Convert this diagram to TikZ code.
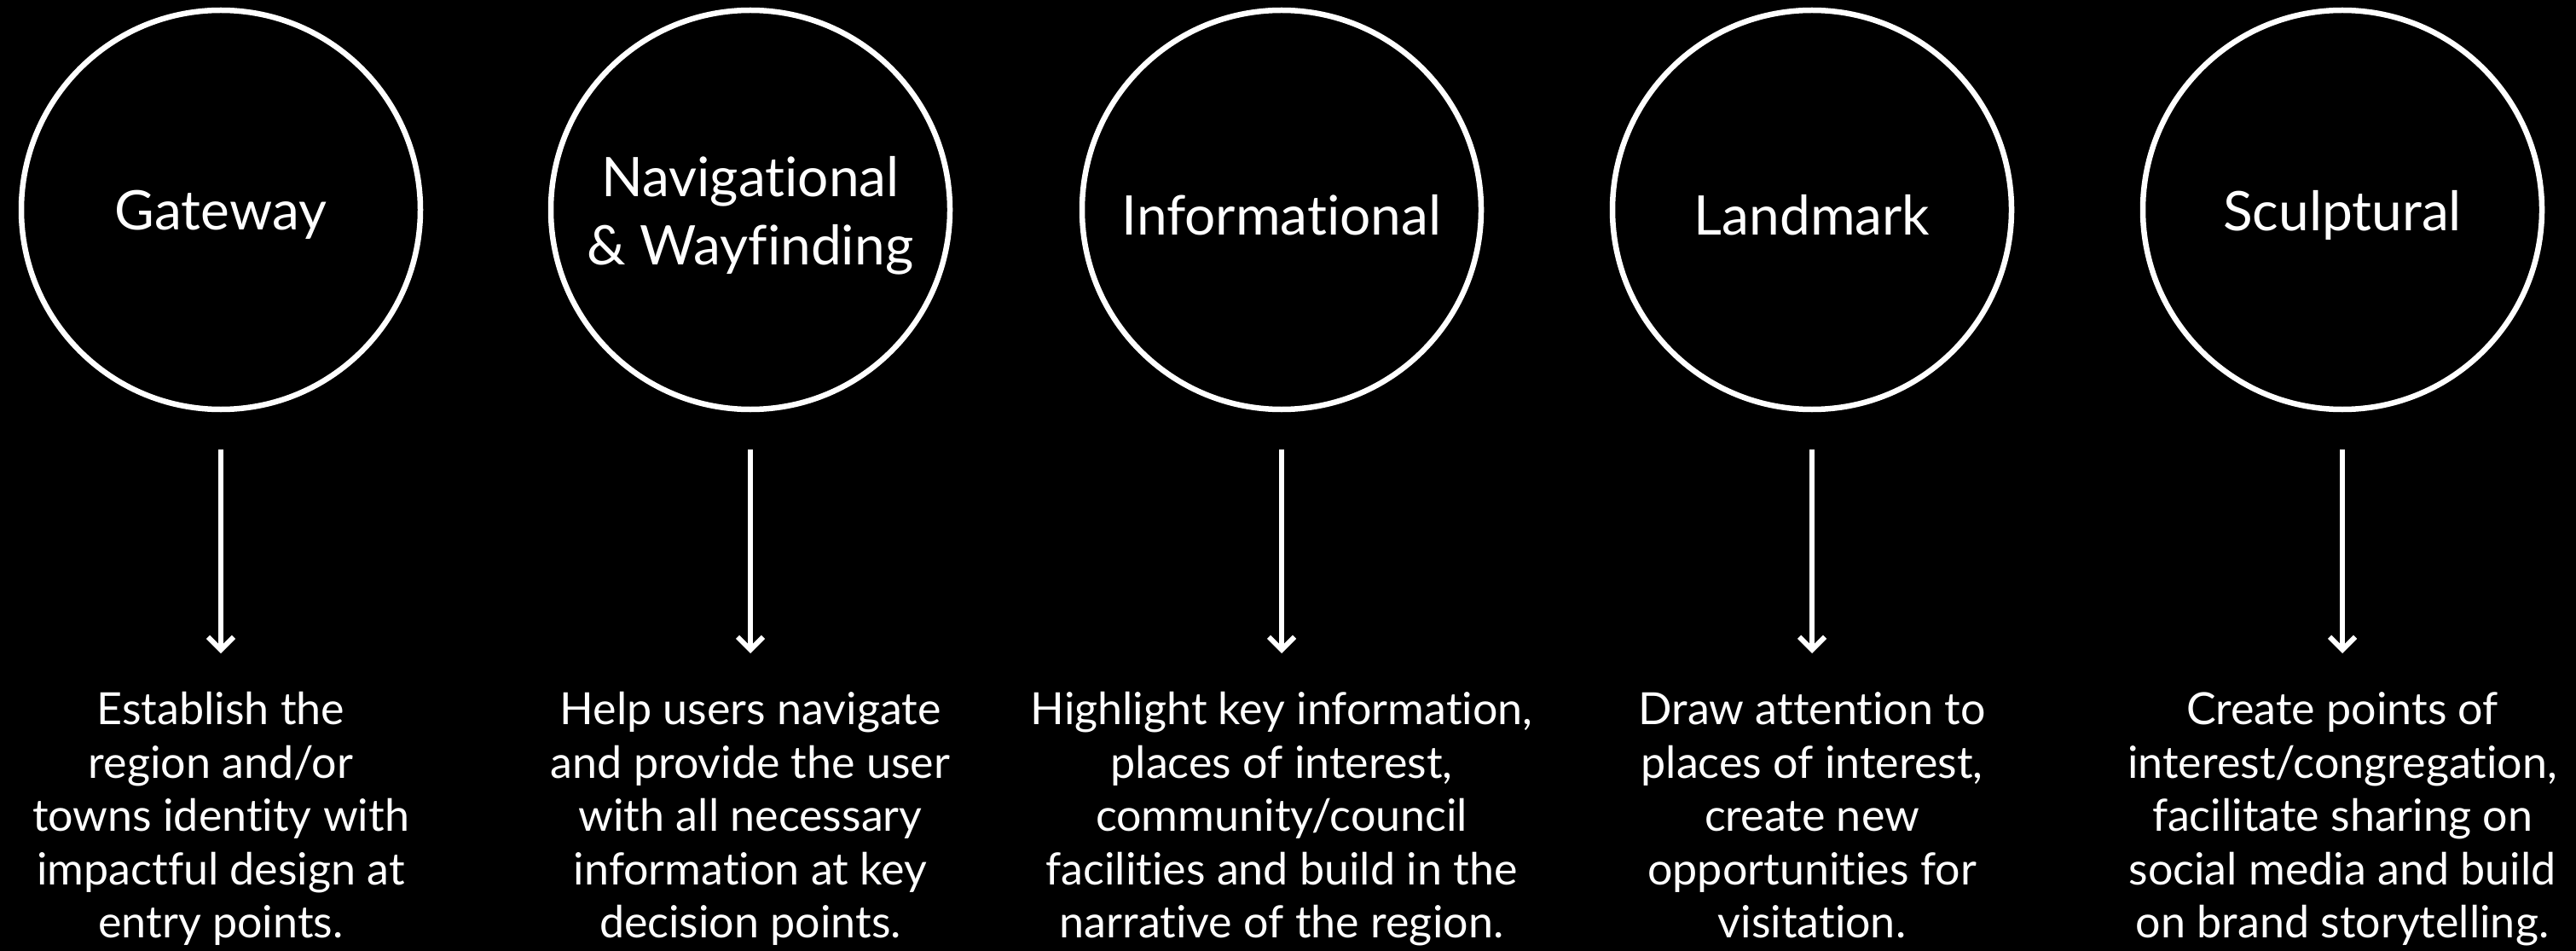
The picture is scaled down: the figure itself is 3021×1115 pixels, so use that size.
\documentclass[tikz,border=0pt]{standalone}
\usepackage{fontspec}
\setmainfont{Lato}[Ligatures=NoCommon]
\usetikzlibrary{arrows.meta}
\begin{document}
\begin{tikzpicture}[x=1pt,y=-1pt,
  ring/.style={circle, draw=white, line width=6.5pt, minimum size=468pt, inner sep=0pt},
  ctext/.style={inner sep=0pt, text=white, align=center, font=\fontsize{64}{80}\selectfont},
  desc/.style={anchor=north, inner sep=0pt, text=white, align=center, font=\fontsize{52}{62.5}\selectfont},
  flow/.style={draw=white, line width=6pt, -{Straight Barb[length=15pt,width=30pt]}, shorten <=44pt, shorten >=40pt}]
\fill[black] (0,0) rectangle (3021,1115);
\useasboundingbox (0,0) rectangle (3021,1115);

\node[ring] (c1) at (259,246) {};
\node[ring] (c2) at (880,246) {};
\node[ring] (c3) at (1503,246) {};
\node[ring] (c4) at (2125,246) {};
\node[ring] (c5) at (2747,246) {};

\node[ctext] (n1) at (259,252) {Gateway};
\node[ctext] (n2) at (880,253) {Navigational\\\& Wayfinding};
\node[ctext] (n3) at (1503,252) {Informational};
\node[ctext] (n4) at (2125,252) {Landmark};
\node[ctext] (n5) at (2747,252) {Sculptural};

\node[desc] (t1) at (259,806) {\strut Establish the\\region and/or\\towns identity with\\impactful design at\\entry points.};
\node[desc] (t2) at (880,806) {\strut Help users navigate\\and provide the user\\with all necessary\\information at key\\decision points.};
\node[desc] (t3) at (1503,806) {\strut Highlight key information,\\places of interest,\\community/council\\facilities and build in the\\narrative of the region.};
\node[desc] (t4) at (2125,806) {\strut Draw attention to\\places of interest,\\create new\\opportunities for\\visitation.};
\node[desc] (t5) at (2747,806) {\strut Create points of\\interest/congregation,\\facilitate sharing on\\social media and build\\on brand storytelling.};

\foreach \i in {1,...,5} \draw[flow] (c\i.south) -- (t\i.north);
\end{tikzpicture}
\end{document}
